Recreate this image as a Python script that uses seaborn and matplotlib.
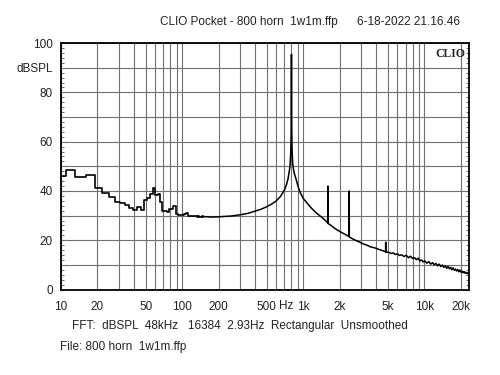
import numpy as np
import pandas as pd
import matplotlib
matplotlib.use("Agg")
import matplotlib.pyplot as plt
import matplotlib.transforms as mtransforms
import seaborn as sns

# ---------------- data ----------------
# low-frequency FFT bins (2.93 Hz resolution), drawn as steps
low_freq = [10.25, 11.7, 14.6, 17.6, 20.5, 23.4, 26.4, 29.3, 32.2, 35.2, 38.1,
            41.0, 44.0, 46.9, 49.8, 52.7, 55.7, 58.6, 61.5, 64.5, 67.4, 70.3,
            73.2, 76.2, 79.1, 82.0, 85.0, 87.9, 90.8, 93.8, 96.7, 99.6, 102.5,
            105.5, 108.4, 111.3, 114.3, 117.2, 120.1, 123.0, 126.0, 128.9,
            131.8, 134.8, 137.7, 140.6, 143.6, 146.5, 149.4]
low_db = [46.0, 48.4, 45.7, 46.6, 41.3, 39.0, 37.5, 35.5, 35.1, 34.1, 33.0,
          32.4, 33.5, 32.4, 36.2, 37.1, 38.9, 41.3, 38.2, 38.9, 35.5, 31.8,
          31.8, 31.6, 32.8, 32.8, 33.9, 33.9, 30.8, 30.4, 30.4, 30.4, 30.4,
          30.5, 31.2, 31.2, 29.9, 29.8, 29.8, 29.7, 29.7, 29.8, 29.7, 29.6,
          29.7, 29.6, 29.6, 29.7, 29.6]

# remainder of the spectrum
hi_freq = [149.4, 175, 200, 250, 300, 350, 400, 450, 500, 550, 600, 650, 700,
           730, 750, 770, 780, 790, 795, 797, 800, 803, 805, 810, 820, 840,
           871, 905, 940, 1000, 1067, 1150, 1250, 1350, 1450, 1540, 1597,
           1600, 1603, 1700, 1800, 1950, 2100, 2250, 2397, 2400, 2403, 2550,
           2700, 2900, 3100, 3350, 3600, 3900, 4200, 4500, 4796, 4800, 4804,
           5050, 5300, 5500, 5750, 6000, 6250, 6500, 6800, 7100, 7400, 7700,
           8000, 8300, 8600, 8900, 9200, 9500, 9800, 10100, 10500, 10900,
           11300, 11700, 12100, 12500, 12900, 13300, 13700, 14100, 14500,
           14900, 15300, 15700, 16100, 16500, 16900, 17300, 17700, 18100,
           18500, 18900, 19300, 19700, 20100, 20500, 20900, 21300, 21700,
           22100, 22500, 22900, 23300]
hi_db = [29.6, 29.4, 29.5, 29.8, 30.3, 30.9, 31.8, 32.6, 33.6, 34.7, 36.0,
         37.8, 40.4, 42.8, 45.0, 48.5, 51.0, 56.0, 63.0, 72.0, 95.5, 72.0,
         64.0, 56.0, 51.0, 47.5, 45.0, 42.0, 39.6, 37.0, 35.3, 33.4, 31.6,
         30.2, 29.0, 27.8, 27.0, 42.0, 26.8, 26.0, 25.0, 23.9, 23.0, 22.2,
         21.5, 40.0, 21.3, 20.6, 20.0, 19.3, 18.6, 18.0, 17.3, 16.9, 16.3,
         15.8, 15.3, 19.2, 15.1, 15.2, 14.6, 14.9, 14.2, 14.5, 13.8, 14.1,
         13.4, 13.9, 12.9, 13.5, 12.6, 12.9, 12.1, 12.7, 11.6, 12.0, 11.2,
         11.6, 10.7, 11.3, 10.3, 10.9, 10.0, 10.6, 9.6, 10.3, 9.3, 9.9, 9.0,
         9.6, 8.6, 9.4, 8.4, 9.0, 8.0, 8.8, 7.8, 8.3, 7.5, 8.1, 7.2, 7.9,
         7.0, 7.5, 6.8, 7.3, 6.6, 7.0, 6.4, 6.8, 6.3]

xtick_pos = [10, 20, 30, 40, 50, 60, 70, 80, 90,
             100, 200, 300, 400, 500, 600, 700, 800, 900,
             1000, 2000, 3000, 4000, 5000, 6000, 7000, 8000, 9000,
             10000, 20000]
xtick_lab = {10: "10", 20: "20", 50: "50", 100: "100", 200: "200",
             500: "500", 1000: "1k", 2000: "2k", 5000: "5k",
             10000: "10k", 20000: "20k"}
ytick_pos = [0, 10, 20, 30, 40, 50, 60, 70, 80, 90, 100]
ytick_lab = ["0", "", "20", "", "40", "", "60", "", "80", "dBSPL", "100"]

title_left = "CLIO Pocket - 800 horn  1w1m.ffp"
title_right = "6-18-2022 21.16.46"
footer1 = "FFT:  dBSPL  48kHz   16384  2.93Hz  Rectangular  Unsmoothed"
footer2 = "File: 800 horn  1w1m.ffp"

# ---------------- plot ----------------
sns.set_style("white")
plt.rcParams["font.family"] = ["Liberation Sans", "DejaVu Sans"]

fig = plt.figure(figsize=(5, 3.75), dpi=100)
ax = fig.add_axes([0.122, 0.228, 0.816, 0.657])

low_df = pd.DataFrame({"f": low_freq, "db": low_db})
hi_df = pd.DataFrame({"f": hi_freq, "db": hi_db})
sns.lineplot(data=low_df, x="f", y="db", ax=ax, color="black", lw=1.2,
             drawstyle="steps-mid", estimator=None, sort=False)
sns.lineplot(data=hi_df, x="f", y="db", ax=ax, color="black", lw=1.1,
             estimator=None, sort=False)

ax.set_xscale("log")
ax.set_xlim(10, 23400)
ax.set_ylim(0, 100)
ax.set_xlabel("")
ax.set_ylabel("")

ax.xaxis.set_minor_locator(matplotlib.ticker.NullLocator())
ax.set_xticks(xtick_pos)
ax.set_xticklabels([xtick_lab.get(p, "") for p in xtick_pos])
ax.set_yticks(ytick_pos)
ax.set_yticklabels(ytick_lab)
ax.yaxis.set_minor_locator(matplotlib.ticker.MultipleLocator(2))

ax.tick_params(axis="both", which="major", length=0, labelsize=8.5,
               colors="#222222")
ax.tick_params(axis="x", which="major", pad=8)
ax.tick_params(axis="y", which="major", pad=6)
ax.tick_params(axis="y", which="minor", direction="in", length=2.5,
               width=0.6, left=True, right=True, color="#555555")

ax.grid(True, which="major", color="#707070", lw=0.8)
ax.set_axisbelow(True)
for s in ax.spines.values():
    s.set_visible(True)
    s.set_color("black")
    s.set_linewidth(1.3)

# "Hz" unit label between 500 and 1k
trans = mtransforms.blended_transform_factory(ax.transData, ax.transAxes)
ax.text(730, -0.065, "Hz", transform=trans, ha="center", va="center",
        fontsize=8.5, color="#222222")

ax.text(0.992, 0.982, "CLIO", transform=ax.transAxes, ha="right", va="top",
        fontsize=8.5, fontweight="bold", zorder=5,
        family=["Liberation Serif", "DejaVu Serif"])

fig.text(160 / 500, 1 - 22 / 375, title_left, ha="left", va="center",
         fontsize=8.5, color="#222222")
fig.text(460 / 500, 1 - 22 / 375, title_right, ha="right", va="center",
         fontsize=8.5, color="#222222")
fig.text(72 / 500, 1 - 326 / 375, footer1, ha="left", va="center",
         fontsize=8.5, color="#222222")
fig.text(60 / 500, 1 - 347 / 375, footer2, ha="left", va="center",
         fontsize=8.5, color="#222222")

fig.savefig("out.png", dpi=100)
